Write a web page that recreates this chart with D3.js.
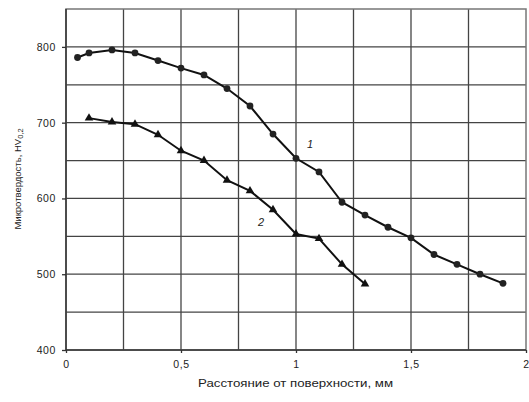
<!DOCTYPE html>
<html><head><meta charset="utf-8">
<script src="https://cdn.jsdelivr.net/npm/d3@7"></script>
<style>body{margin:0;background:#fff}svg{display:block}</style>
</head><body>
<script>
const xTicks = [0, 0.5, 1, 1.5, 2];
const xTickLabels = ["0", "0,5", "1", "1,5", "2"];
const yTicks = [400, 500, 600, 700, 800];
const s1x = [0.05, 0.1, 0.2, 0.3, 0.4, 0.5, 0.6, 0.7, 0.8, 0.9, 1.0, 1.1, 1.2, 1.3, 1.4, 1.5, 1.6, 1.7, 1.8, 1.9];
const s1y = [786, 792, 796, 792, 782, 772, 763, 745, 722, 685, 653, 635, 595, 578, 562, 548, 526, 513, 500, 488];
const s2x = [0.1, 0.2, 0.3, 0.4, 0.5, 0.6, 0.7, 0.8, 0.9, 1.0, 1.1, 1.2, 1.3];
const s2y = [706, 701, 698, 684, 663, 650, 624, 610, 585, 553, 547, 513, 487];

const W = 529, H = 402;
const m = {l: 66, r: 3, t: 9, b: 52};
const FF = "Liberation Sans, Arial, sans-serif";
const svg = d3.select("body").append("svg").attr("width", W).attr("height", H);
const x = d3.scaleLinear().domain([0, 2]).range([m.l, W - m.r]);
const y = d3.scaleLinear().domain([400, 850]).range([H - m.b, m.t]);

const g = svg.append("g");
g.selectAll(".vg").data(d3.range(0.25, 2, 0.25)).join("line")
  .attr("x1", d => x(d)).attr("x2", d => x(d)).attr("y1", y(400)).attr("y2", y(850))
  .attr("stroke", "#444").attr("stroke-width", 1.3);
g.selectAll(".hg").data(d3.range(450, 850, 50)).join("line")
  .attr("y1", d => y(d)).attr("y2", d => y(d)).attr("x1", x(0)).attr("x2", x(2))
  .attr("stroke", "#444").attr("stroke-width", 1.3);
g.append("rect").attr("x", x(0)).attr("y", y(850)).attr("width", x(2) - x(0)).attr("height", y(400) - y(850))
  .attr("fill", "none").attr("stroke", "#777").attr("stroke-width", 1.5);
g.append("line").attr("x1", x(0)).attr("x2", x(0)).attr("y1", y(400)).attr("y2", y(850)).attr("stroke", "#333").attr("stroke-width", 1.5);
g.append("line").attr("x1", x(0)).attr("x2", x(2)).attr("y1", y(400)).attr("y2", y(400)).attr("stroke", "#333").attr("stroke-width", 1.5);

const xa = svg.append("g").attr("transform", `translate(0,${y(400)})`)
  .call(d3.axisBottom(x).tickValues(xTicks).tickFormat((d, i) => xTickLabels[i]).tickSize(3).tickPadding(8));
const ya = svg.append("g").attr("transform", `translate(${x(0)},0)`)
  .call(d3.axisLeft(y).tickValues(yTicks).tickSize(4).tickPadding(6));
[xa, ya].forEach(a => {
  a.select(".domain").remove();
  a.selectAll("line").attr("stroke", "#333").attr("stroke-width", 1.3);
  a.selectAll("text").attr("font-family", FF).attr("font-size", 10.5).attr("fill", "#222")
    .attr("letter-spacing", 0.6);
});

const line = d3.line().x(d => x(d[0])).y(d => y(d[1]));
const d1 = s1x.map((v, i) => [v, s1y[i]]);
const d2 = s2x.map((v, i) => [v, s2y[i]]);
svg.append("path").attr("d", line(d1)).attr("fill", "none").attr("stroke", "#111").attr("stroke-width", 2);
svg.append("path").attr("d", line(d2)).attr("fill", "none").attr("stroke", "#111").attr("stroke-width", 2);
svg.selectAll(".c").data(d1).join("circle").attr("cx", d => x(d[0])).attr("cy", d => y(d[1])).attr("r", 3.4).attr("fill", "#222");
const tri = d3.symbol().type(d3.symbolTriangle).size(32);
svg.selectAll(".t").data(d2).join("path").attr("d", tri)
  .attr("transform", d => `translate(${x(d[0])},${y(d[1])})`).attr("fill", "#111");

svg.append("text").attr("x", 310).attr("y", 148).attr("font-style", "italic").attr("font-family", FF)
  .attr("font-size", 11).attr("fill", "#222").attr("text-anchor", "middle").text("1");
svg.append("text").attr("x", 261).attr("y", 226).attr("font-style", "italic").attr("font-family", FF)
  .attr("font-size", 11).attr("fill", "#222").attr("text-anchor", "middle").text("2");

svg.append("text").attr("x", 198).attr("y", 387)
  .attr("font-family", FF).attr("font-size", 10.5).attr("fill", "#222")
  .attr("textLength", 195).attr("lengthAdjust", "spacingAndGlyphs")
  .text("Расстояние от поверхности, мм");
const yl = svg.append("text").attr("transform", "translate(21,179) rotate(-90)").attr("text-anchor", "middle")
  .attr("font-family", FF).attr("font-size", 9.5).attr("fill", "#222");
yl.append("tspan").text("Микротвердость, HV");
yl.append("tspan").attr("font-size", 7.5).attr("dy", 2).text("0,2");
</script>
</body></html>
